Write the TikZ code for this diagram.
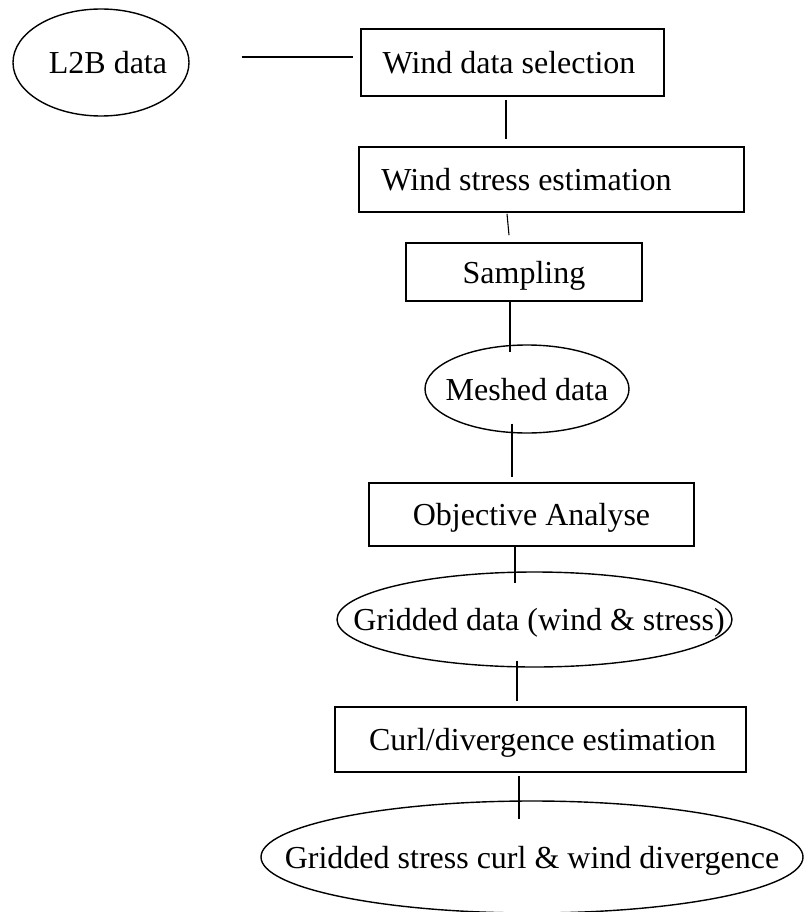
\documentclass[tikz,border=0pt]{standalone}
\usepackage{fontspec}
\setmainfont{Liberation Serif}
\usetikzlibrary{shapes.geometric,calc}
\newcommand{\flowtext}[1]{\makebox[0pt]{#1}}
\tikzset{
  flowbox/.style={draw, line width=1.6pt, rectangle, inner sep=0pt,
    text height=22pt, text depth=0pt, font=\fontsize{32}{38}\selectfont},
  flowoval/.style={draw, line width=1.4pt, ellipse, inner sep=0pt,
    text height=22pt, text depth=0pt, font=\fontsize{32}{38}\selectfont},
  link/.style={line width=1.1pt}
}
\begin{document}
\begin{tikzpicture}[x=1pt, y=-1pt]
\useasboundingbox (0,0) rectangle (803,912);
\node[flowoval, minimum width=176pt, minimum height=107pt] (l2b) at (101,62.5) {\flowtext{\kern14pt L2B data}};
\node[flowbox, minimum width=303pt, minimum height=67pt] (wds) at (512.5,62.5) {\flowtext{\kern-7pt Wind data selection}};
\node[flowbox, minimum width=385pt, minimum height=65pt] (wse) at (551.5,179.5) {\flowtext{\kern-50pt Wind stress estimation}};
\node[flowbox, minimum width=236pt, minimum height=58pt] (samp) at (524,272) {\flowtext{Sampling}};
\node[flowoval, minimum width=204pt, minimum height=88pt] (mesh) at (527,389) {\flowtext{Meshed data}};
\node[flowbox, minimum width=325pt, minimum height=63pt] (oa) at (531.5,514.5) {\flowtext{Objective Analyse}};
\node[flowoval, minimum width=395pt, minimum height=95pt] (grid) at (534.5,619.5) {\flowtext{\kern9pt Gridded data (wind \& stress)}};
\node[flowbox, minimum width=411pt, minimum height=65pt] (curl) at (540.5,739.5) {\flowtext{\kern4pt Curl/divergence estimation}};
\node[flowoval, minimum width=542pt, minimum height=112pt] (fin) at (532,857) {\flowtext{Gridded stress curl \& wind divergence}};

\draw[link] ($(l2b.east)+(52,-5.5)$) -- ($(wds.west)+(-7,-5.5)$);
\draw[link] ($(wds.south)+(-6.5,3)$) -- ($(wse.north)+(-45.5,-7)$);
\draw[link] ($(wse.south)+(-44.5,1)$) -- ($(samp.north)+(-15,-7)$);
\draw[link] ($(samp.south)+(-14,0)$) -- ($(mesh.north)+(-17,8)$);
\draw[link] ($(mesh.south)+(-15,-10)$) -- ($(oa.north)+(-19.5,-5)$);
\draw[link] ($(oa.south)+(-16.5,0)$) -- ($(grid.north)+(-19.5,12)$);
\draw[link] ($(grid.south)+(-17.5,-7)$) -- ($(curl.north)+(-23.5,-5)$);
\draw[link] ($(curl.south)+(-21.5,3)$) -- ($(fin.north)+(-13,19)$);
\end{tikzpicture}
\end{document}
